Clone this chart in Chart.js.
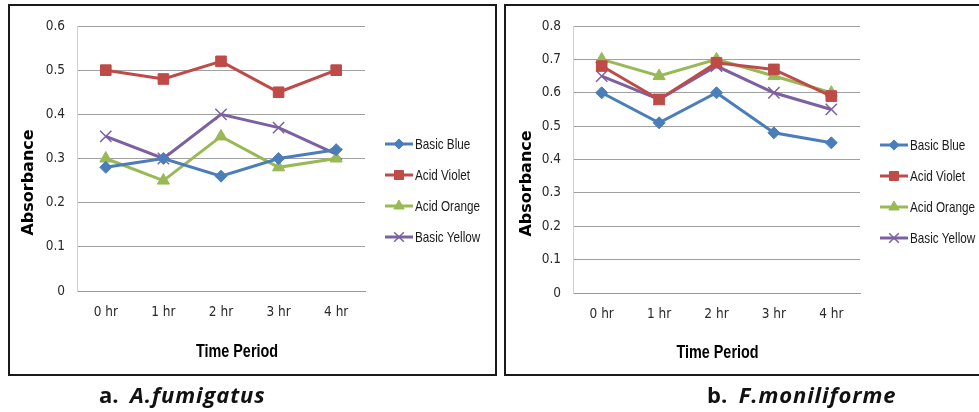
<!DOCTYPE html>
<html>
<head>
<meta charset="utf-8">
<script src="https://cdn.jsdelivr.net/npm/chart.js@4.4.1/dist/chart.umd.min.js"></script>
<style>
  body { margin: 0; width: 979px; height: 412px; background: #fff; position: relative; overflow: hidden; }
  .frame { position: absolute; top: 4px; height: 372px; border: 2px solid #1a1a1a; box-sizing: border-box; }
  .plot { position: absolute; top: 0; }
  .caption { position: absolute; top: 379px; font-family: 'Open Sans', sans-serif; font-weight: bold; font-size: 22px; color: #111; white-space: pre; }
  .caption i { font-style: italic; letter-spacing: 0.9px; }
</style>
</head>
<body>
<div class="frame" style="left:8px; width:489px;"></div>
<div class="frame" style="left:504px; width:500px;"></div>
<div class="plot" style="left:0; width:497px; height:380px;"><canvas id="chartA"></canvas></div>
<div class="plot" style="left:500px; width:479px; height:380px;"><canvas id="chartB"></canvas></div>
<div class="caption" style="left:99px;">a.  <i>A.fumigatus</i></div>
<div class="caption" style="left:707px;">b.  <i>F.moniliforme</i></div>

<script>
// time points and dye names
const timeLabels = ['0 hr', '1 hr', '2 hr', '3 hr', '4 hr'];
const dyeNames = ['Basic Blue', 'Acid Violet', 'Acid Orange', 'Basic Yellow'];

// absorbance - A. fumigatus
const afBasicBlue   = [0.28, 0.30, 0.26, 0.30, 0.32];
const afAcidViolet  = [0.50, 0.48, 0.52, 0.45, 0.50];
const afAcidOrange  = [0.30, 0.25, 0.35, 0.28, 0.30];
const afBasicYellow = [0.35, 0.30, 0.40, 0.37, 0.31];

// absorbance - F. moniliforme
const fmBasicBlue   = [0.60, 0.51, 0.60, 0.48, 0.45];
const fmAcidViolet  = [0.68, 0.58, 0.69, 0.67, 0.59];
const fmAcidOrange  = [0.70, 0.65, 0.70, 0.65, 0.60];
const fmBasicYellow = [0.65, 0.58, 0.68, 0.60, 0.55];

const afTicksMax = 0.6;
const fmTicksMax = 0.8;

// excel-ish series look
const dyeStyles = [
  { color: '#4a7ebb', pointStyle: 'rectRot', radius: 6, pointBorder: 1 },
  { color: '#be4b48', pointStyle: 'rect', radius: 7.5, pointBorder: 1 },
  { color: '#98b954', pointStyle: 'triangle', radius: 7, pointBorder: 1 },
  { color: '#7d60a0', pointStyle: 'crossRot', radius: 8, pointBorder: 1.5 }
];

const tickFont = "'DejaVu Sans Condensed', 'DejaVu Sans', sans-serif";
const narrowFont = "'Liberation Sans', Arial, sans-serif";

// text squeezed sideways to look like a narrow face
function narrowText(ctx, text, x, y, sx) {
  ctx.save();
  ctx.translate(x, y);
  ctx.scale(sx, 1);
  ctx.fillText(text, 0, 0);
  ctx.restore();
}

// axis titles + legend with line and marker, drawn like the spreadsheet version
const excelDecor = {
  id: 'excelDecor',
  afterDraw(chart, args, opts) {
    const { ctx, chartArea: a } = chart;
    ctx.save();
    ctx.fillStyle = '#000';
    ctx.textAlign = 'center';
    ctx.textBaseline = 'middle';

    ctx.save();
    ctx.font = "bold 16px 'DejaVu Sans', sans-serif";
    ctx.translate(a.left + opts.yTitleDx, (a.top + a.bottom) / 2 + opts.yTitleDy);
    ctx.rotate(-Math.PI / 2);
    ctx.fillText(opts.yTitle, 0, 0);
    ctx.restore();

    ctx.font = 'bold 18px ' + narrowFont;
    narrowText(ctx, opts.xTitle, (a.left + a.right) / 2 + opts.xTitleDx, a.bottom + opts.xTitleDy, 0.8);

    // legend
    ctx.textAlign = 'left';
    ctx.font = '15px ' + narrowFont;
    chart.data.datasets.forEach((ds, i) => {
      const y = opts.legendTop + i * opts.legendGap;
      const x0 = a.right + 20, x1 = a.right + 48;
      ctx.strokeStyle = ds.borderColor;
      ctx.lineWidth = 3;
      ctx.beginPath();
      ctx.moveTo(x0, y);
      ctx.lineTo(x1, y);
      ctx.stroke();
      ctx.fillStyle = ds.pointBackgroundColor;
      ctx.strokeStyle = ds.pointBorderColor;
      ctx.lineWidth = ds.pointBorderWidth;
      Chart.helpers.drawPoint(ctx, {
        pointStyle: ds.pointStyle,
        radius: ds.pointRadius * 0.85,
        rotation: 0,
        borderWidth: ds.pointBorderWidth
      }, (x0 + x1) / 2, y);
      ctx.fillStyle = '#1a1a1a';
      narrowText(ctx, ds.label, x1 + 2, y + 1, 0.78);
    });
    ctx.restore();
  }
};

function buildDatasets(series) {
  return series.map((values, i) => {
    const s = dyeStyles[i];
    return {
      label: dyeNames[i],
      data: values,
      borderColor: s.color,
      backgroundColor: s.color,
      borderWidth: 3,
      pointStyle: s.pointStyle,
      pointRadius: s.radius,
      pointHoverRadius: s.radius,
      pointBackgroundColor: s.color,
      pointBorderColor: s.color,
      pointBorderWidth: s.pointBorder,
      tension: 0
    };
  });
}

function makeChart(id, series, yMax, layout, yWidth, decor) {
  return new Chart(document.getElementById(id), {
    type: 'line',
    data: { labels: timeLabels, datasets: buildDatasets(series) },
    options: {
      responsive: true,
      maintainAspectRatio: false,
      animation: false,
      layout: { padding: layout },
      plugins: {
        legend: { display: false },
        tooltip: { enabled: false },
        excelDecor: decor
      },
      scales: {
        x: {
          offset: true,
          grid: { display: false, drawTicks: false },
          border: { display: true, color: '#999999', width: 1 },
          ticks: { color: '#2a2a2a', font: { family: tickFont, size: 13.5 }, padding: 13 },
          afterFit(scale) { scale.height = 40; }
        },
        y: {
          min: 0,
          max: yMax,
          grid: { color: '#a0a0a0', lineWidth: 1, drawTicks: false },
          border: { display: true, color: '#d0d0d0', width: 1 },
          ticks: {
            stepSize: 0.1,
            color: '#2a2a2a',
            padding: 12,
            font: { family: tickFont, size: 13.5 },
            callback: v => v === 0 ? '0' : v.toFixed(1)
          },
          afterFit(scale) { scale.width = yWidth; }
        }
      }
    },
    plugins: [excelDecor]
  });
}

makeChart('chartA',
  [afBasicBlue, afAcidViolet, afAcidOrange, afBasicYellow],
  afTicksMax,
  { left: 8, right: 132, top: 26, bottom: 49 }, 69,
  { yTitle: 'Absorbance', yTitleDx: -48, yTitleDy: 24,
    xTitle: 'Time Period', xTitleDx: 16, xTitleDy: 61,
    legendTop: 144, legendGap: 31 });

makeChart('chartB',
  [fmBasicBlue, fmAcidViolet, fmAcidOrange, fmBasicYellow],
  fmTicksMax,
  { left: 8, right: 119, top: 26, bottom: 47 }, 65,
  { yTitle: 'Absorbance', yTitleDx: -46, yTitleDy: 24,
    xTitle: 'Time Period', xTitleDx: 1, xTitleDy: 60,
    legendTop: 145, legendGap: 31 });
</script>
</body>
</html>
